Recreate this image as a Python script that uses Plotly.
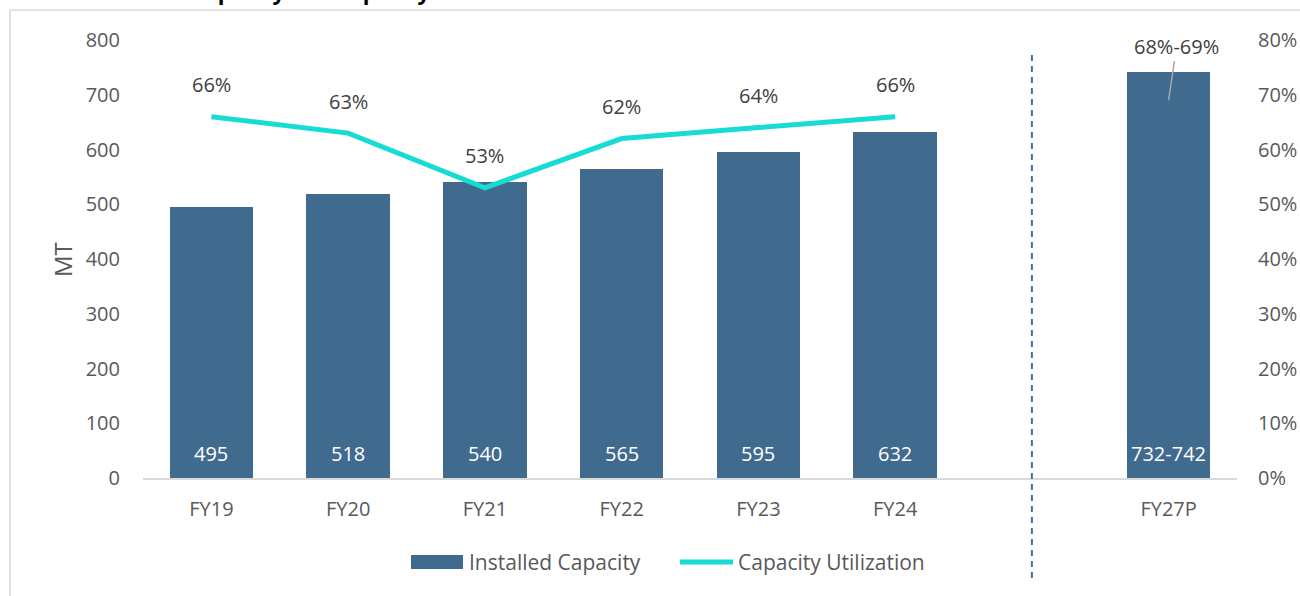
import plotly.graph_objects as go

# Data
categories = ["FY19", "FY20", "FY21", "FY22", "FY23", "FY24", "", "FY27P"]
capacity_hist = [495, 518, 540, 565, 595, 632]
capacity_proj_range = [732, 742]
utilization_hist = [66, 63, 53, 62, 64, 66]
utilization_proj_range = [68, 69]
left_ticks = list(range(0, 801, 100))
right_ticks = list(range(0, 81, 10))

BAR_COLOR = "#416B8E"
LINE_COLOR = "#17DCD3"
TEXT_COLOR = "#595959"
LABEL_COLOR = "#404040"
FONT = "Open Sans"

W, H = 1300, 596
ML, MR, MT_, MB = 143, 63, 40, 118
PW, PH = W - ML - MR, H - MT_ - MB


def px_x(px):
    return (px - ML) / PW


def px_y(py):
    return (H - MB - py) / PH


hist_x = list(range(len(capacity_hist)))
proj_x = 7

fig = go.Figure()

# Installed capacity bars (historical + projected upper bound)
fig.add_trace(go.Bar(
    x=hist_x + [proj_x],
    y=capacity_hist + [capacity_proj_range[1]],
    width=0.61,
    marker=dict(color=BAR_COLOR, line=dict(width=0)),
    name="Installed Capacity",
    showlegend=False,
    hoverinfo="skip",
))

# Capacity utilization line on secondary axis
fig.add_trace(go.Scatter(
    x=hist_x,
    y=utilization_hist,
    yaxis="y2",
    mode="lines",
    line=dict(color=LINE_COLOR, width=5),
    name="Capacity Utilization",
    showlegend=False,
    hoverinfo="skip",
))

annotations = []

# Bar value labels
bar_texts = [str(v) for v in capacity_hist] + [f"{capacity_proj_range[0]}-{capacity_proj_range[1]}"]
for xv, t in zip(hist_x + [proj_x], bar_texts):
    annotations.append(dict(
        x=xv, y=0, xref="x", yref="y", text=t, showarrow=False,
        yanchor="middle", yshift=25,
        font=dict(family=FONT, size=20, color="white"),
    ))

# Utilization labels
for xv, v in zip(hist_x, utilization_hist):
    annotations.append(dict(
        x=xv, y=v, xref="x", yref="y2", text=f"{v}%", showarrow=False,
        yanchor="middle", yshift=32,
        font=dict(family=FONT, size=20, color=LABEL_COLOR),
    ))

# Projected utilization callout
annotations.append(dict(
    x=proj_x, y=utilization_proj_range[1], xref="x", yref="y2",
    text=f"{utilization_proj_range[0]}%-{utilization_proj_range[1]}%",
    showarrow=True, arrowhead=0, arrowwidth=1.5, arrowcolor="#A6A6A6",
    ax=8, ay=-54, standoff=0,
    font=dict(family=FONT, size=20, color=LABEL_COLOR),
))

# Axis title
annotations.append(dict(
    x=px_x(62), y=px_y(260), xref="paper", yref="paper", text="MT",
    showarrow=False, textangle=-90, xanchor="center", yanchor="middle",
    font=dict(family=FONT, size=24, color=TEXT_COLOR),
))

# Legend labels
annotations.append(dict(
    x=px_x(467), y=px_y(562), xref="paper", yref="paper", text="Installed Capacity",
    showarrow=False, xanchor="left", yanchor="middle",
    font=dict(family=FONT, size=21, color=TEXT_COLOR),
))
annotations.append(dict(
    x=px_x(736), y=px_y(562), xref="paper", yref="paper", text="Capacity Utilization",
    showarrow=False, xanchor="left", yanchor="middle",
    font=dict(family=FONT, size=21, color=TEXT_COLOR),
))

# Heading (sits above the chart frame)
annotations.append(dict(
    x=px_x(-2), y=px_y(8), xref="paper", yref="paper",
    text="<b>Chart 2: Installed capacity and capacity utilization of the cement sector</b>",
    showarrow=False, xanchor="left", yanchor="bottom",
    font=dict(family=FONT, size=22, color="black"),
))

shapes = [
    # Outer frame
    dict(type="line", xref="paper", yref="paper", x0=px_x(10), x1=px_x(10),
         y0=px_y(10), y1=px_y(600), line=dict(color="#D9D9D9", width=1.5)),
    dict(type="line", xref="paper", yref="paper", x0=px_x(10), x1=px_x(1302),
         y0=px_y(10), y1=px_y(10), line=dict(color="#D9D9D9", width=1.5)),
    # Historical / projected separator
    dict(type="line", xref="x", yref="paper", x0=6, x1=6,
         y0=px_y(578), y1=px_y(53), line=dict(color="#41719C", width=2, dash="6px,5px")),
    # Legend swatches
    dict(type="rect", xref="paper", yref="paper", x0=px_x(411), x1=px_x(463),
         y0=px_y(569), y1=px_y(555), fillcolor=BAR_COLOR, line=dict(width=0)),
    dict(type="line", xref="paper", yref="paper", x0=px_x(680), x1=px_x(733),
         y0=px_y(562), y1=px_y(562), line=dict(color=LINE_COLOR, width=5)),
]

fig.update_layout(
    width=W, height=H,
    margin=dict(l=ML, r=MR, t=MT_, b=MB, pad=0, autoexpand=False),
    paper_bgcolor="white", plot_bgcolor="white",
    font=dict(family=FONT, size=20, color=TEXT_COLOR),
    showlegend=False,
    bargap=0,
    xaxis=dict(
        range=[-0.5, 7.5], tickmode="array",
        tickvals=[0, 1, 2, 3, 4, 5, 7], ticktext=[categories[i] for i in [0, 1, 2, 3, 4, 5, 7]],
        showgrid=False, zeroline=False, showline=True, linecolor="#D9D9D9", linewidth=1.5,
        ticks="", ticklabelstandoff=12, tickfont=dict(size=20, color=TEXT_COLOR),
        fixedrange=True, automargin=False,
    ),
    yaxis=dict(
        range=[0, 800], tickmode="array", tickvals=left_ticks,
        ticktext=[str(v) for v in left_ticks],
        showgrid=False, zeroline=False, showline=False, ticks="",
        ticklabelstandoff=22, tickfont=dict(size=20, color=TEXT_COLOR),
        fixedrange=True, automargin=False,
    ),
    yaxis2=dict(
        range=[0, 80], tickmode="array", tickvals=right_ticks,
        ticktext=[f"{v}%" for v in right_ticks],
        overlaying="y", side="right",
        showgrid=False, zeroline=False, showline=False, ticks="",
        ticklabelstandoff=20, tickfont=dict(size=20, color=TEXT_COLOR),
        fixedrange=True, automargin=False,
    ),
    annotations=annotations,
    shapes=shapes,
)

fig.write_html("out.html", config={"displayModeBar": False})
